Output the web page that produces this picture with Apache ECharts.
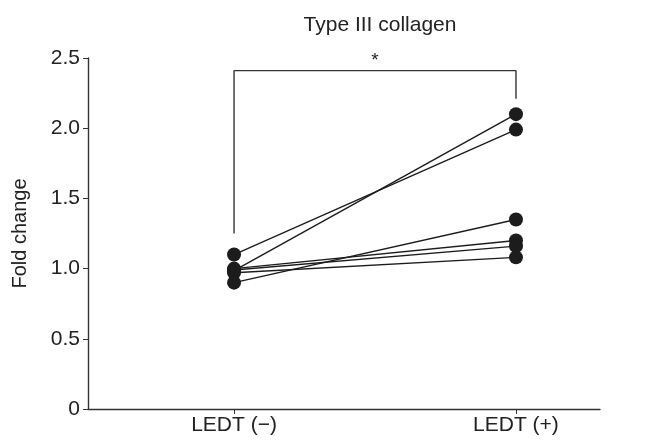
<!DOCTYPE html>
<html><head><meta charset="utf-8">
<script src="https://cdn.jsdelivr.net/npm/echarts@6/dist/echarts.min.js"></script>
<style>html,body{margin:0;padding:0;background:#fff}#c{width:655px;height:445px}</style>
</head><body><div id="c"></div>
<script>
var categories = ['LEDT (\u2212)', 'LEDT (+)'];
var before = [1.10, 0.985, 1.00, 0.99, 0.97, 0.90];
var after  = [1.99, 2.10, 1.20, 1.16, 1.08, 1.35];
var yTicks = [0, 0.5, 1.0, 1.5, 2.0, 2.5];
var bracket = [[0, 1.25], [0, 2.41], [1, 2.41], [1, 2.21]];
var sigLabel = '*';

var FONT = 'Liberation Sans';
var chart = echarts.init(document.getElementById('c'), null, {renderer: 'canvas'});
var series = [];
for (var i = 0; i < before.length; i++) {
  series.push({
    type: 'line',
    data: [[0, before[i]], [1, after[i]]],
    symbol: 'circle', symbolSize: 14,
    itemStyle: {color: '#1c1c1c'},
    lineStyle: {color: '#1c1c1c', width: 1.4},
    silent: true, z: 3
  });
}
series.push({
  type: 'line', data: bracket, symbol: 'none',
  lineStyle: {color: '#333', width: 1.4}, silent: true,
  markPoint: {
    symbol: 'rect', symbolSize: 0,
    data: [{coord: [0.5, 2.41], value: sigLabel}],
    label: {show: true, position: 'top', distance: 0, formatter: sigLabel, color: '#222', fontSize: 19, fontFamily: FONT}
  }
});
chart.setOption({
  animation: false,
  title: {text: 'Type III collagen', left: 375, top: 10, textAlign: 'center',
    textStyle: {fontFamily: FONT, fontWeight: 'normal', fontSize: 21, color: '#222'}},
  grid: {left: 88, top: 58, right: 55, bottom: 36, containLabel: false},
  xAxis: {
    type: 'value', min: -0.518, max: 1.298,
    splitLine: {show: false},
    axisLine: {lineStyle: {color: '#333', width: 1.4}},
    axisTick: {show: true, customValues: [0, 1], length: 5, lineStyle: {color: '#333'}},
    axisLabel: {customValues: [0, 1], formatter: function (v) { return categories[Math.round(v)]; },
      fontFamily: FONT, fontSize: 21, color: '#222', margin: 6}
  },
  yAxis: {
    type: 'value', min: 0, max: 2.5, interval: 0.5,
    name: 'Fold change', nameLocation: 'middle', nameGap: 58,
    nameTextStyle: {fontFamily: FONT, fontSize: 20, color: '#222'},
    splitLine: {show: false},
    axisLine: {show: true, onZero: false, lineStyle: {color: '#333', width: 1.4}},
    axisTick: {show: true, length: 5, lineStyle: {color: '#333'}},
    axisLabel: {formatter: function (v) { return v === 0 ? '0' : v.toFixed(1); },
      fontFamily: FONT, fontSize: 21, color: '#222', margin: 8}
  },
  series: series
});
</script></body></html>
